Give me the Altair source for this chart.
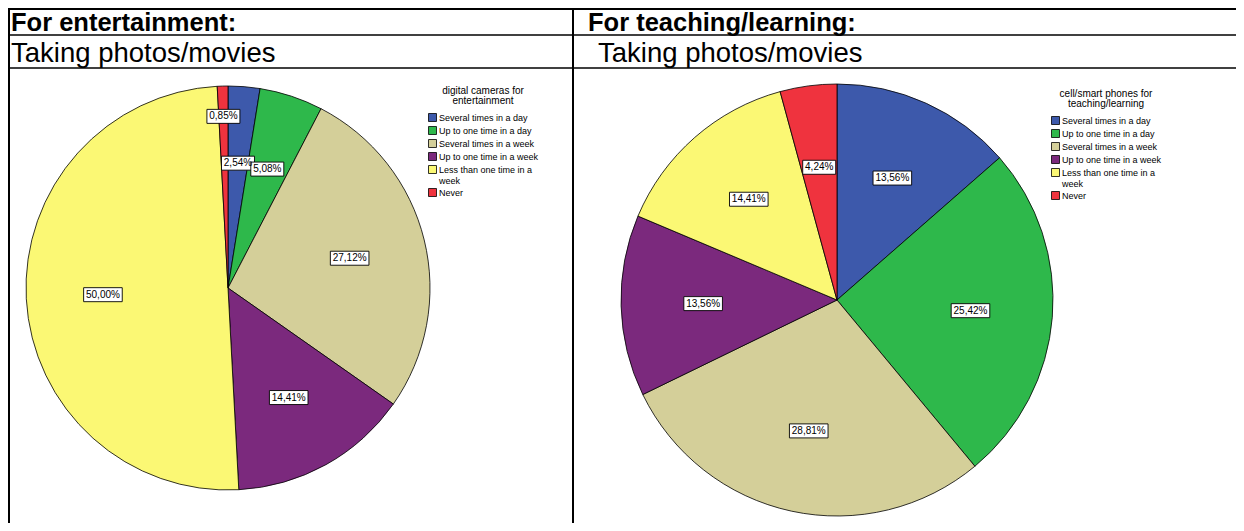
import altair as alt
import pandas as pd

categories = [
    "Several times in a day",
    "Up to one time in a day",
    "Several  times in a week",
    "Up to one time in a week",
    "Less than one time in a week",
    "Never",
]
colors = ["#3D59AB", "#2EB84B", "#D4CF99", "#7B297D", "#FBF874", "#EF333E"]

ent_values = [2.54, 5.08, 27.12, 14.41, 50.00, 0.85]
teach_values = [13.56, 25.42, 28.81, 13.56, 14.41, 4.24]

ent_title = ["digital cameras for", "entertainment"]
teach_title = ["cell/smart phones for", "teaching/learning"]

FONT = "Liberation Sans"


def make_df(values):
    return pd.DataFrame({"category": categories, "idx": list(range(len(categories))), "value": values})


def pie_layers(values, cx, cy, r, legend_title, lx, ly):
    df = make_df(values)
    base = alt.Chart(df)
    arcs = base.mark_arc(radius=r, stroke="black", strokeWidth=0.8).encode(
        x=alt.value(cx),
        y=alt.value(cy),
        theta=alt.Theta("value:Q", stack=True, scale=alt.Scale(domain=[0, 100])),
        order=alt.Order("idx:Q"),
        color=alt.Color(
            "category:N",
            scale=alt.Scale(domain=categories, range=colors),
            legend=alt.Legend(
                title=legend_title,
                orient="none",
                legendX=lx,
                legendY=ly,
                titleFont=FONT,
                titleFontSize=10,
                titleFontWeight="normal",
                titleColor="black",
                titleAnchor="middle",
                titleAlign="center",
                titleLineHeight=10,
                titlePadding=7,
                labelFont=FONT,
                labelFontSize=9,
                labelColor="black",
                labelLimit=200,
                labelExpr="datum.label == 'Less than one time in a week' ? ['Less than one time in a', 'week'] : datum.label",
                symbolType="square",
                symbolSize=64,
                symbolStrokeColor="black",
                symbolStrokeWidth=0.8,
                symbolOpacity=1,
                rowPadding=0,
                labelOffset=2,
            ),
        ),
    )
    lab = base.transform_window(
        cum="sum(value)", sort=[alt.SortField("idx")]
    ).transform_calculate(
        ang="(datum.cum - datum.value/2)/100*2*PI",
        frac="datum.value < 1 ? 0.85 : 0.62",
        label="replace(format(datum.value, '.2f'), '.', ',') + '%'",
    ).transform_calculate(
        lx=f"{cx} + {r}*datum.frac*sin(datum.ang)",
        ly=f"{cy} - {r}*datum.frac*cos(datum.ang)",
        hw="length(datum.label)*2.8 + 2.5",
    ).transform_calculate(
        bx1="datum.lx - datum.hw",
        bx2="datum.lx + datum.hw",
        by1="datum.ly - 7",
        by2="datum.ly + 7",
    )
    boxes = lab.mark_rect(fill="white", stroke="black", strokeWidth=0.9).encode(
        x=alt.X("bx1:Q", scale=None),
        x2="bx2:Q",
        y=alt.Y("by1:Q", scale=None),
        y2="by2:Q",
    )
    texts = lab.mark_text(font=FONT, fontSize=10, color="black", baseline="middle", align="center").encode(
        x=alt.X("lx:Q", scale=None),
        y=alt.Y("ly:Q", scale=None),
        text="label:N",
    )
    return [arcs, boxes, texts]


W, H = 1228, 515
dummy = pd.DataFrame({"a": [0]})

def hline(y, x1, x2, sw):
    return alt.Chart(dummy).mark_rule(color="black", strokeWidth=sw).encode(
        x=alt.value(x1), x2=alt.value(x2), y=alt.value(y)
    )

def vline(x, y1, y2, sw):
    return alt.Chart(dummy).mark_rule(color="black", strokeWidth=sw).encode(
        x=alt.value(x), y=alt.value(y1), y2=alt.value(y2)
    )

def label(txt, x, y, size, weight="normal"):
    return alt.Chart(dummy).mark_text(
        text=txt, font=FONT, fontSize=size, fontWeight=weight, color="black",
        align="left", baseline="alphabetic"
    ).encode(x=alt.value(x), y=alt.value(y))

lines = [
    hline(1, 0, W, 2),
    hline(27, 0, W, 1.6),
    hline(60, 0, W, 1.6),
    vline(1, 0, H, 2),
    vline(565, 0, H, 2),
]

texts = [
    label("For entertainment:", 3, 23, 25.5, "bold"),
    label("Taking photos/movies", 3, 54, 27.5),
    label("For teaching/learning:", 580, 23, 25.5, "bold"),
    label("Taking photos/movies", 590, 54, 27.5),
]

pie1 = pie_layers(ent_values, 220, 280, 202, ent_title, 420, 78)
pie2 = pie_layers(teach_values, 829, 292, 216, teach_title, 1043, 81)

chart = alt.layer(*lines, *texts, *pie1, *pie2).resolve_scale(
    color="independent", theta="shared"
).properties(
    width=W, height=H, padding=0,
    autosize=alt.AutoSizeParams(type="none"),
).configure_view(stroke=None)

chart.save("out.html", embed_options={"renderer": "svg", "actions": False})
